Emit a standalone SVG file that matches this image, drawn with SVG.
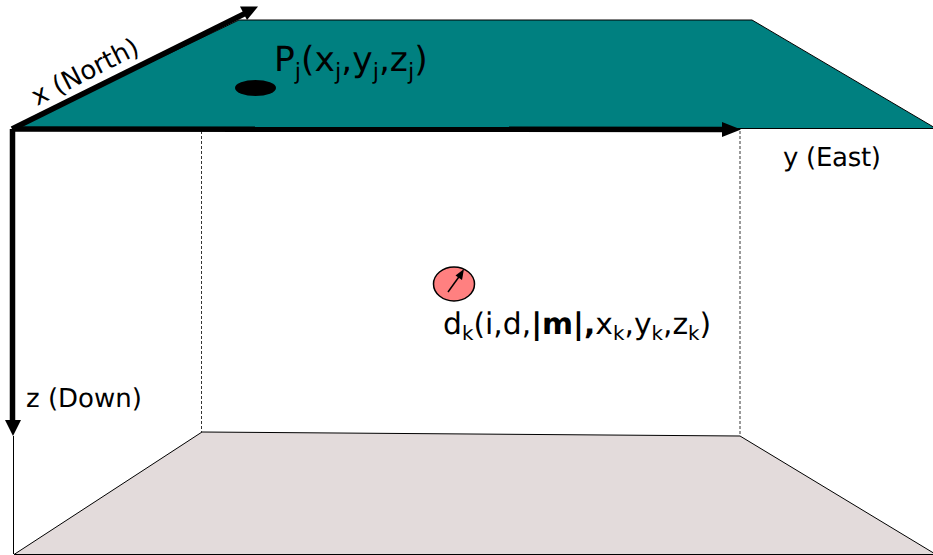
<svg xmlns="http://www.w3.org/2000/svg" width="933" height="555" viewBox="0 0 933 555">
<style>
text{font-family:"DejaVu Sans",sans-serif;fill:#000;text-rendering:geometricPrecision}
.lab{font-size:26px}
.big{font-size:34.5px}
.med{font-size:29.800px}
.thin{stroke:#000;stroke-width:1;fill:none}
.dash{stroke:#000;stroke-width:.8;stroke-dasharray:3 2;fill:none}
.axis{stroke:#000;stroke-width:5.500;fill:none}
</style>
<g id="top-plane"><polygon points="12,128.500 239,20 752,20 936,128.500" fill="#008080" stroke="#000" stroke-width="1"/></g>
<g id="bottom-plane"><polygon points="14,554.500 202,432 740,436 936,554.500" fill="#e3dbdb" stroke="#000" stroke-width="1"/></g>
<g id="connectors">
<path class="dash" d="M201.500 131V432"/>
<path class="dash" d="M740 131V436"/>
<path class="thin" d="M13.500 436V554"/>
<path class="axis" d="M12 129L246 13"/>
<polygon points="240,6.500 258,6.500 247,20"/>
<path class="axis" d="M12 129L724 129.500"/>
<polygon points="722,122 741,129.500 722,137"/>
<path class="axis" d="M12.500 129V420"/>
<polygon points="5,420 21,420 13,436"/>
</g>
<g id="point-p"><ellipse cx="255.500" cy="88" rx="20.500" ry="8"/>
<text class="big" x="274" y="71">P<tspan font-size="22.500" dy="8">j</tspan><tspan dy="-8">(x</tspan><tspan font-size="22.500" dy="8">j</tspan><tspan dy="-8">,y</tspan><tspan font-size="22.500" dy="8">j</tspan><tspan dy="-8">,z</tspan><tspan font-size="22.500" dy="8">j</tspan><tspan dy="-8">)</tspan></text></g>
<g id="dipole"><ellipse cx="454" cy="284" rx="20.500" ry="17" fill="#ff8080" stroke="#000" stroke-width="1.500"/>
<path d="M448 292L461 274" stroke="#000" stroke-width="1.500" fill="none"/><polygon points="464,269 462,280 455.500,275.500"/>
<text class="med" x="443" y="334">d<tspan font-size="19.800" dy="6">k</tspan><tspan dy="-6">(i,d,</tspan><tspan font-weight="700">|m|,</tspan>x<tspan font-size="19.800" dy="6">k</tspan><tspan dy="-6">,y</tspan><tspan font-size="19.800" dy="6">k</tspan><tspan dy="-6">,z</tspan><tspan font-size="19.800" dy="6">k</tspan><tspan dy="-6">)</tspan></text></g>
<g id="label-x"><text class="lab" transform="translate(37 106) rotate(-27)">x (North)</text></g>
<g id="label-y"><text class="lab" x="783" y="166" textLength="98">y (East)</text></g>
<g id="label-z"><text class="lab" x="26" y="407">z (Down)</text></g>
</svg>
